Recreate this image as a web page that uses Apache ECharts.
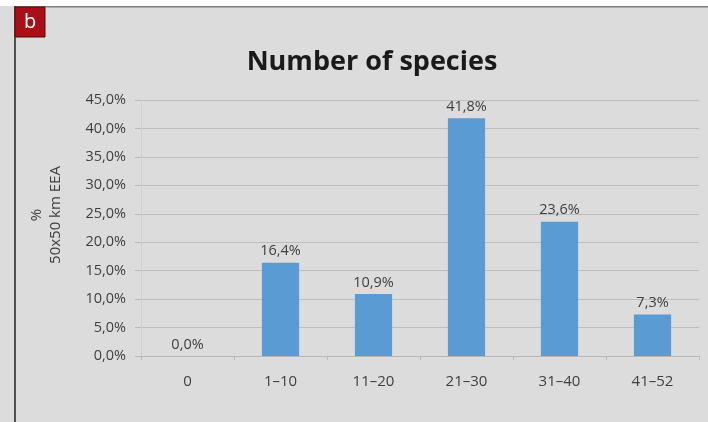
<!DOCTYPE html>
<html>
<head>
<meta charset="utf-8">
<script src="https://cdn.jsdelivr.net/npm/echarts@6/dist/echarts.min.js"></script>
<style>
html,body{margin:0;padding:0;background:#dcdcdc;}
#c{width:708px;height:422px;}
</style>
</head>
<body>
<div id="c"></div>
<script>
var categories = ['0', '1\u201310', '11\u201320', '21\u201330', '31\u201340', '41\u201352'];
var values = [0.0, 16.4, 10.9, 41.8, 23.6, 7.3];
var yTicks = [0, 5, 10, 15, 20, 25, 30, 35, 40, 45];

var chart = echarts.init(document.getElementById('c'), null, {renderer: 'canvas'});
var font = '"Open Sans", "Noto Sans", sans-serif';
chart.setOption({
  backgroundColor: '#dcdcdc',
  animation: false,
  title: {
    text: 'Number of species',
    left: 367, top: 44, textAlign: 'center',
    textStyle: {fontFamily: font, fontSize: 27, fontWeight: 'bold', color: '#1a1a1a'}
  },
  graphic: [
    {type: 'rect', shape: {x: 0, y: 0, width: 708, height: 6}, style: {fill: '#ffffff'}},
    {type: 'rect', shape: {x: 15, y: 6, width: 693, height: 1.5}, style: {fill: '#808080'}},
    {type: 'rect', shape: {x: 14, y: 6, width: 2, height: 416}, style: {fill: '#505050'}},
    {type: 'rect', shape: {x: 15, y: 7, width: 30, height: 30}, style: {fill: '#a80f16', stroke: '#5a0a0a', lineWidth: 1}},
    {type: 'text', x: 30, y: 22, style: {text: 'b', fill: '#ffffff', font: '20px "Open Sans", sans-serif', textAlign: 'center', textVerticalAlign: 'middle'}}
  ],
  grid: {left: 141, right: 9, top: 100, bottom: 66},
  xAxis: {
    type: 'category',
    data: categories,
    axisLine: {lineStyle: {color: '#b8b8b8'}},
    axisTick: {show: true, alignWithLabel: false, length: 4, lineStyle: {color: '#b8b8b8'}},
    axisLabel: {fontFamily: font, fontSize: 15, color: '#404040', margin: 18}
  },
  yAxis: {
    type: 'value',
    min: 0, max: 45, interval: 5,
    name: '%\n50x50 km EEA',
    nameLocation: 'middle',
    nameGap: 76,
    nameRotate: 90,
    nameTextStyle: {fontFamily: font, fontSize: 15, color: '#404040', lineHeight: 19, padding: [0, 0, 0, 26]},
    axisLine: {show: true, lineStyle: {color: '#cfcfcf'}},
    axisTick: {show: true, length: 6, inside: false, lineStyle: {color: '#b8b8b8'}},
    splitLine: {lineStyle: {color: '#bdbdbd'}},
    axisLabel: {
      fontFamily: font, fontSize: 14.5, color: '#404040', margin: 15,
      formatter: function (v) { return v.toFixed(1).replace('.', ',') + '%'; }
    }
  },
  series: [{
    type: 'bar',
    data: values,
    barWidth: '40%',
    itemStyle: {color: '#5a9bd4'},
    label: {
      show: true, position: 'top', distance: 4,
      fontFamily: font, fontSize: 14.5, color: '#404040',
      formatter: function (p) { return p.value.toFixed(1).replace('.', ',') + '%'; }
    }
  }]
});
</script>
</body>
</html>
